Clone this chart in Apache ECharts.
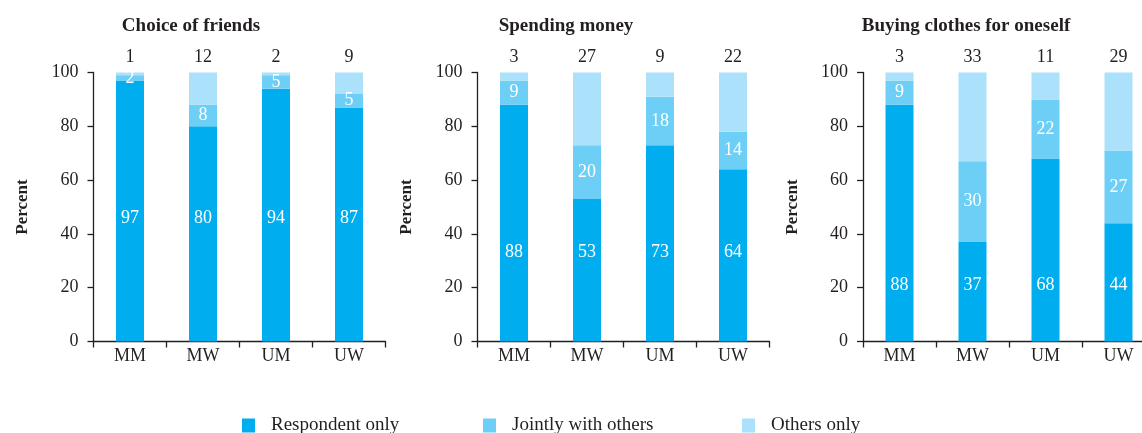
<!DOCTYPE html>
<html>
<head>
<meta charset="utf-8">
<script src="https://cdn.jsdelivr.net/npm/echarts@6/dist/echarts.min.js"></script>
<style>
  html, body { margin: 0; padding: 0; background: #fff; }
  #main { width: 1142px; height: 433px; }
</style>
</head>
<body>
<div id="main"></div>
<script>
const categories = ['MM', 'MW', 'UM', 'UW'];
const panelTitles = ['Choice of friends', 'Spending money', 'Buying clothes for oneself'];
const seriesNames = ['Respondent only', 'Jointly with others', 'Others only'];
// one row per panel, one value per category
const respondentOnly = [[97, 80, 94, 87], [88, 53, 73, 64], [88, 37, 68, 44]];
const jointlyWithOthers = [[2, 8, 5, 5], [9, 20, 18, 14], [9, 30, 22, 27]];
const othersOnly = [[1, 12, 2, 9], [3, 27, 9, 22], [3, 33, 11, 29]];

const font = 'Liberation Serif';
const ink = '#231f20';
const colors = ['#00aeef', '#6dcff6', '#abe1fa'];

// layout
const gridLeft = [93.5, 477.5, 863];
const titleX = [186, 561, 961];
const respLabelDist = [114, 80, 47];

const chartDom = document.getElementById('main');
const myChart = echarts.init(chartDom);

const grid = [], xAxis = [], yAxis = [], title = [], series = [];
for (let i = 0; i < 3; i++) {
  // last panel runs past the right edge of the picture
  grid.push({ left: gridLeft[i], top: 72.5, width: 292, height: 269, outerBoundsMode: 'none' });
  title.push({
    text: panelTitles[i], left: titleX[i], top: 12, textAlign: 'center',
    textStyle: { fontFamily: font, fontSize: 19, fontWeight: 'bold', color: ink }
  });
  xAxis.push({
    type: 'category', gridIndex: i, data: categories,
    axisLine: { lineStyle: { color: ink, width: 1.3 } },
    axisTick: { show: true, length: 6, lineStyle: { color: ink, width: 1.3 } },
    axisLabel: { fontFamily: font, fontSize: 18, color: ink, margin: 6 }
  });
  yAxis.push({
    type: 'value', gridIndex: i, min: 0, max: 100, interval: 20,
    name: 'Percent', nameLocation: 'middle', nameGap: 62,
    nameTextStyle: { fontFamily: font, fontSize: 17, fontWeight: 'bold', color: ink },
    splitLine: { show: false },
    axisLine: { show: true, lineStyle: { color: ink, width: 1.3 } },
    axisTick: { show: true, length: 6, lineStyle: { color: ink, width: 1.3 } },
    axisLabel: { fontFamily: font, fontSize: 18, color: ink, margin: 15 }
  });
  series.push({
    name: seriesNames[0], type: 'bar', stack: 's' + i, xAxisIndex: i, yAxisIndex: i,
    barWidth: 28, data: respondentOnly[i], itemStyle: { color: colors[0] },
    label: { show: true, position: 'insideBottom', distance: respLabelDist[i],
      fontFamily: font, fontSize: 18, color: '#fff' }
  });
  series.push({
    name: seriesNames[1], type: 'bar', stack: 's' + i, xAxisIndex: i, yAxisIndex: i,
    barWidth: 28, data: jointlyWithOthers[i], itemStyle: { color: colors[1] },
    label: { show: true, position: 'inside', fontFamily: font, fontSize: 18, color: '#fff' }
  });
  series.push({
    name: seriesNames[2], type: 'bar', stack: 's' + i, xAxisIndex: i, yAxisIndex: i,
    barWidth: 28, data: othersOnly[i], itemStyle: { color: colors[2] },
    label: { show: true, position: 'top', distance: 6, fontFamily: font, fontSize: 18, color: ink }
  });
}

const legendX = [242, 483, 742];
const legend = seriesNames.map((n, k) => ({
  data: [n], left: legendX[k], top: 416, padding: 0, itemWidth: 13, itemHeight: 14,
  itemGap: 0, icon: 'rect', selectedMode: false,
  textStyle: { fontFamily: font, fontSize: 19, color: ink, padding: [0, 0, 0, 11] }
}));

const option = {
  animation: false,
  title, grid, xAxis, yAxis, series, legend
};
option && myChart.setOption(option);
window.addEventListener('resize', function () {
  myChart.resize();
});
</script>
</body>
</html>
